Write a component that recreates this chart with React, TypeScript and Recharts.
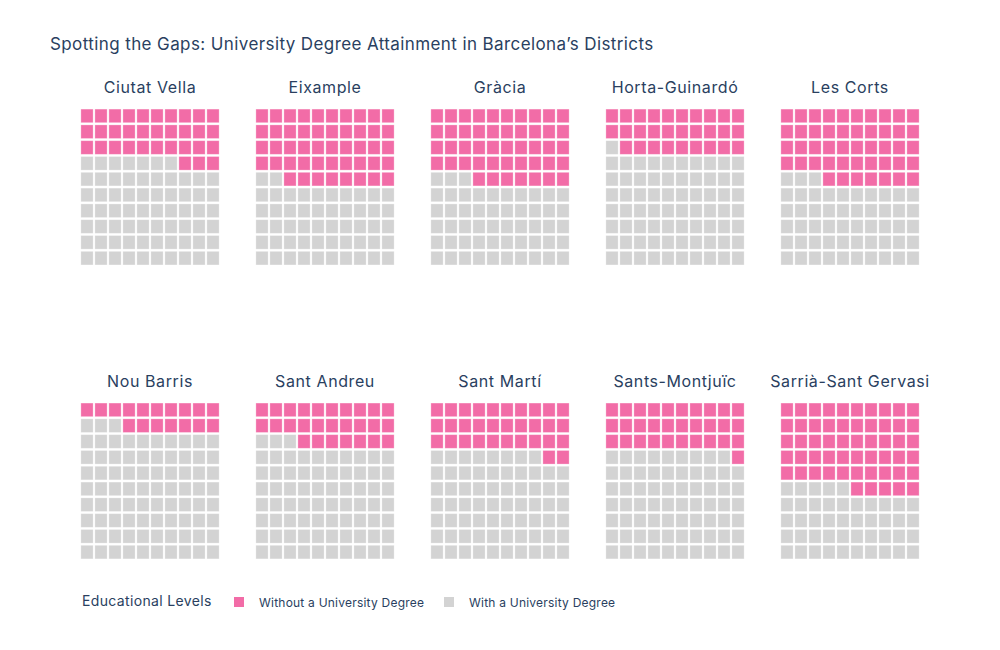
import React from 'react';
import { ScatterChart, Scatter, XAxis, YAxis } from 'recharts';

const districts = [
  'Ciutat Vella', 'Eixample', 'Gràcia', 'Horta-Guinardó', 'Les Corts',
  'Nou Barris', 'Sant Andreu', 'Sant Martí', 'Sants-Montjuïc', 'Sarrià-Sant Gervasi',
];
// cells out of 100 for each district
const withoutDegree = [33, 48, 47, 29, 47, 17, 27, 32, 31, 55];
const withDegree = withoutDegree.map((v) => 100 - v);

const seriesNames = ['Without a University Degree', 'With a University Degree'];
const PINK = '#F26CA7';
const GRAY = '#D3D3D3';
const TEXT = '#2a3f5f';
const FONT = 'Inter, "Open Sans", sans-serif';

// grid geometry (units of one cell)
const PANEL_STEP_X = 12.5;
const PANEL_STEP_Y = 18.6;

type Cell = { x: number; y: number };
const pinkCells: Cell[] = [];
const grayCells: Cell[] = [];
districts.forEach((d, i) => {
  const px = (i % 5) * PANEL_STEP_X;
  const py = Math.floor(i / 5) * PANEL_STEP_Y;
  for (let k = 0; k < 100; k++) {
    const rowFromBottom = Math.floor(k / 10);
    const col = k % 10;
    const cell = { x: px + col, y: py + (9 - rowFromBottom) };
    if (k < withDegree[i]) grayCells.push(cell);
    else pinkCells.push(cell);
  }
});

const Square = (props: any) => {
  const { cx, cy, fill } = props;
  return (
    <rect
      x={cx - 6.1}
      y={cy - 6.8}
      width={12.2}
      height={13.6}
      fill={fill}
      stroke="#ffffff"
      strokeOpacity={0.35}
      strokeWidth={0.8}
    />
  );
};

export default function App() {
  return (
    <div style={{ position: 'absolute', left: 0, top: 0, width: 1000, height: 650, background: '#fff', fontFamily: FONT, color: TEXT }}>
      <div style={{ position: 'absolute', left: 50, top: 34, fontSize: 17, letterSpacing: 0.4, whiteSpace: 'nowrap' }}>
        Spotting the Gaps: University Degree Attainment in Barcelona’s Districts
      </div>
      {districts.map((d, i) => (
        <div
          key={d}
          style={{
            position: 'absolute',
            left: 150 + (i % 5) * 175 - 90,
            width: 180,
            textAlign: 'center',
            top: Math.floor(i / 5) * 294 + 77,
            fontSize: 16,
            letterSpacing: 0.6,
            whiteSpace: 'nowrap',
          }}
        >
          {d}
        </div>
      ))}
      <div style={{ position: 'absolute', left: 0, top: 0 }}>
        <ScatterChart width={1000} height={650} margin={{ top: 108, right: 80, bottom: 90, left: 80 }}>
          <XAxis type="number" dataKey="x" domain={[-0.5, 59.5]} hide />
          <YAxis type="number" dataKey="y" domain={[-0.5, 28.1]} reversed hide />
          <Scatter name={seriesNames[1]} data={grayCells} fill={GRAY} shape={Square} isAnimationActive={false} />
          <Scatter name={seriesNames[0]} data={pinkCells} fill={PINK} shape={Square} isAnimationActive={false} />
        </ScatterChart>
      </div>
      <div style={{ position: 'absolute', left: 82, top: 592, fontSize: 14, letterSpacing: 0.35, whiteSpace: 'nowrap' }}>Educational Levels</div>
      <div style={{ position: 'absolute', left: 234, top: 597, width: 10, height: 10, background: PINK }} />
      <div style={{ position: 'absolute', left: 259, top: 595, fontSize: 12, letterSpacing: 0.22, whiteSpace: 'nowrap' }}>{seriesNames[0]}</div>
      <div style={{ position: 'absolute', left: 444, top: 597, width: 10, height: 10, background: GRAY }} />
      <div style={{ position: 'absolute', left: 469, top: 595, fontSize: 12, letterSpacing: 0.22, whiteSpace: 'nowrap' }}>{seriesNames[1]}</div>
    </div>
  );
}
